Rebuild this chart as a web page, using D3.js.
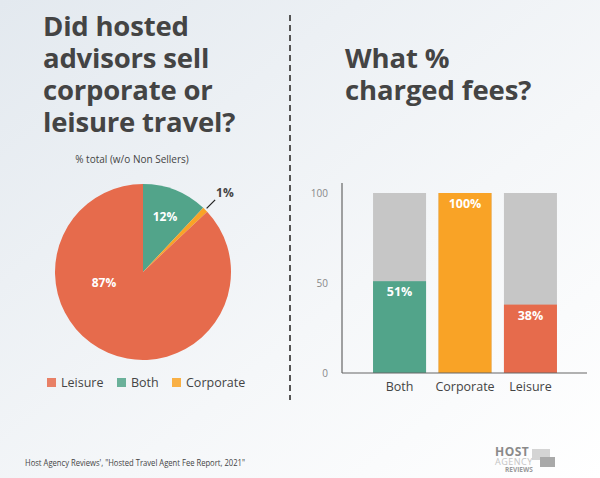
<!DOCTYPE html>
<html lang="en">
<head>
    <meta charset="UTF-8">
    <script src="https://cdn.jsdelivr.net/npm/d3@7"></script>
    <title>Hosted advisors fees</title>
    <style>
        body { margin: 0; }
        text { font-family: "Open Sans", "Noto Sans", sans-serif; }
    </style>
</head>
<body>
    <svg width="600" height="478"></svg>
    <script>
        // pie data
        const pieLabels = ['Both', 'Corporate', 'Leisure'];
        const pieValues = [12, 1, 87];
        // bar data
        const barCategories = ['Both', 'Corporate', 'Leisure'];
        const barValues = [51, 100, 38];
        const barTotal = [100, 100, 100];
        const yTicks = [0, 50, 100];
        const legendOrder = ['Leisure', 'Both', 'Corporate'];

        const colors = { Leisure: '#e66b4c', Both: '#52a48a', Corporate: '#f9a326' };
        const textColor = '#444';

        const svg = d3.select('svg');

        // background gradient
        const grad = svg.append('defs').append('linearGradient')
            .attr('id', 'bg').attr('x1', 0).attr('y1', 0).attr('x2', 1).attr('y2', 1);
        grad.append('stop').attr('offset', 0).attr('stop-color', '#e3e9ef');
        grad.append('stop').attr('offset', 0.6).attr('stop-color', '#f5f7f9');
        grad.append('stop').attr('offset', 1).attr('stop-color', '#ffffff');
        svg.append('rect').attr('width', 600).attr('height', 478).attr('fill', 'url(#bg)');

        // titles
        const titleLeft = ['Did hosted', 'advisors sell', 'corporate or', 'leisure travel?'];
        svg.append('g').selectAll('text')
            .data(titleLeft).enter().append('text')
            .attr('x', 43).attr('y', (d, i) => 36 + i * 32)
            .attr('font-size', 27.5).attr('font-weight', 700)
            .attr('fill', textColor).attr('letter-spacing', -0.2)
            .text(d => d);

        const titleRight = ['What %', 'charged fees?'];
        svg.append('g').selectAll('text')
            .data(titleRight).enter().append('text')
            .attr('x', 345).attr('y', (d, i) => 68 + i * 32)
            .attr('font-size', 27.5).attr('font-weight', 700)
            .attr('fill', textColor).attr('letter-spacing', -0.1)
            .text(d => d);

        // divider
        svg.append('line')
            .attr('x1', 290).attr('x2', 290).attr('y1', 15).attr('y2', 400)
            .attr('stroke', '#555').attr('stroke-width', 2)
            .attr('stroke-dasharray', '6,4');

        // ---- pie ----
        const cx = 143, cy = 272, r = 88;
        svg.append('text')
            .attr('x', 132).attr('y', 163).attr('text-anchor', 'middle')
            .attr('font-size', 10).attr('fill', textColor)
            .text('% total (w/o Non Sellers)');

        const pie = d3.pie().sort(null).value(d => d.v);
        const pieData = pie(pieLabels.map((k, i) => ({ k: k, v: pieValues[i] })));
        const arc = d3.arc().innerRadius(0).outerRadius(r);
        const pg = svg.append('g').attr('transform', `translate(${cx},${cy})`);
        pg.selectAll('path').data(pieData).enter().append('path')
            .attr('d', arc)
            .attr('fill', d => colors[d.data.k]);

        const labelArc = d3.arc().innerRadius(r * 0.68).outerRadius(r * 0.68);
        pg.selectAll('text.in').data(pieData.filter(d => d.data.v > 5)).enter().append('text')
            .attr('class', 'in')
            .attr('transform', d => {
                const c = labelArc.centroid(d);
                if (d.data.k === 'Leisure') return `translate(${-39},${15})`;
                return `translate(${c[0]},${c[1] + 5})`;
            })
            .attr('text-anchor', 'middle')
            .attr('font-size', 12).attr('font-weight', 700).attr('fill', '#fff')
            .text(d => d.data.v + '%');

        // small slice with leader line
        const small = pieData.filter(d => d.data.v <= 5);
        small.forEach(d => {
            const a = (d.startAngle + d.endAngle) / 2;
            const p1 = [Math.sin(a) * (r + 2), -Math.cos(a) * (r + 2)];
            const p2 = [Math.sin(a) * (r + 14), -Math.cos(a) * (r + 14)];
            pg.append('line')
                .attr('x1', p1[0]).attr('y1', p1[1]).attr('x2', p2[0]).attr('y2', p2[1])
                .attr('stroke', '#222').attr('stroke-width', 1.2);
            pg.append('text')
                .attr('x', p2[0] + 1).attr('y', p2[1] - 3)
                .attr('font-size', 12).attr('font-weight', 700).attr('fill', textColor)
                .text(d.data.v + '%');
        });

        // legend
        const legendX = [47, 117, 172];
        const lg = svg.append('g').selectAll('g')
            .data(legendOrder).enter().append('g')
            .attr('transform', (d, i) => `translate(${legendX[i]},378)`);
        lg.append('rect').attr('width', 9).attr('height', 9)
            .attr('fill', d => colors[d]).attr('opacity', 0.85);
        lg.append('text').attr('x', 14).attr('y', 9)
            .attr('font-size', 12.5).attr('fill', textColor)
            .text(d => d);

        // ---- bars ----
        const x = d3.scaleBand().domain(barCategories).range([366.5, 563.5]).paddingInner(0.19).paddingOuter(0.1);
        const y = d3.scaleLinear().domain([0, 100]).range([373, 193]);
        const bg = svg.append('g');

        bg.selectAll('rect.tot').data(barCategories).enter().append('rect')
            .attr('class', 'tot')
            .attr('x', d => x(d)).attr('width', x.bandwidth())
            .attr('y', (d, i) => y(barTotal[i])).attr('height', (d, i) => y(0) - y(barTotal[i]))
            .attr('fill', '#c6c6c6');
        bg.selectAll('rect.val').data(barCategories).enter().append('rect')
            .attr('class', 'val')
            .attr('x', d => x(d)).attr('width', x.bandwidth())
            .attr('y', (d, i) => y(barValues[i])).attr('height', (d, i) => y(0) - y(barValues[i]))
            .attr('fill', d => colors[d]);
        bg.selectAll('text.val').data(barCategories).enter().append('text')
            .attr('class', 'val')
            .attr('x', d => x(d) + x.bandwidth() / 2)
            .attr('y', (d, i) => y(barValues[i]) + 15)
            .attr('text-anchor', 'middle')
            .attr('font-size', 12.5).attr('font-weight', 700).attr('fill', '#fff')
            .text((d, i) => barValues[i] + '%');

        // axes
        const xAxis = svg.append('g').attr('transform', 'translate(0,373)')
            .call(d3.axisBottom(x).tickSize(0).tickPadding(9));
        xAxis.select('.domain').attr('d', 'M342,0H587').attr('stroke', '#666').attr('stroke-width', 1.2);
        xAxis.selectAll('text').attr('font-size', 12.5).attr('fill', textColor)
            .attr('font-family', '"Open Sans", sans-serif');

        const yAxis = svg.append('g').attr('transform', 'translate(342,0)')
            .call(d3.axisLeft(y).tickValues(yTicks).tickSize(0).tickPadding(14));
        yAxis.select('.domain').attr('d', 'M0,183V373').attr('stroke', '#666').attr('stroke-width', 1.2);
        yAxis.selectAll('text').attr('font-size', 10).attr('fill', '#888')
            .attr('font-family', '"Open Sans", sans-serif');

        // source
        svg.append('text')
            .attr('x', 25).attr('y', 466)
            .attr('font-size', 9.5).attr('fill', textColor)
            .attr('textLength', 220).attr('lengthAdjust', 'spacingAndGlyphs')
            .text('Host Agency Reviews\', "Hosted Travel Agent Fee Report, 2021"');

        // logo
        const logo = svg.append('g').attr('transform', 'translate(495,447)');
        logo.append('rect').attr('x', 37).attr('y', 2).attr('width', 18).attr('height', 11).attr('fill', '#d4d4d4');
        logo.append('rect').attr('x', 45).attr('y', 10).attr('width', 15).attr('height', 10).attr('fill', '#a9a9a9');
        logo.append('text').attr('x', 0).attr('y', 9).attr('font-size', 12).attr('font-weight', 700)
            .attr('fill', '#8a8a8a').attr('letter-spacing', 0.5).text('HOST');
        logo.append('text').attr('x', 0).attr('y', 18).attr('font-size', 9)
            .attr('fill', '#c4c4c4').attr('letter-spacing', 0.5).text('AGENCY');
        logo.append('text').attr('x', 10).attr('y', 25).attr('font-size', 6.5).attr('font-weight', 700)
            .attr('fill', '#9a9a9a').text('REVIEWS');
    </script>
</body>
</html>
